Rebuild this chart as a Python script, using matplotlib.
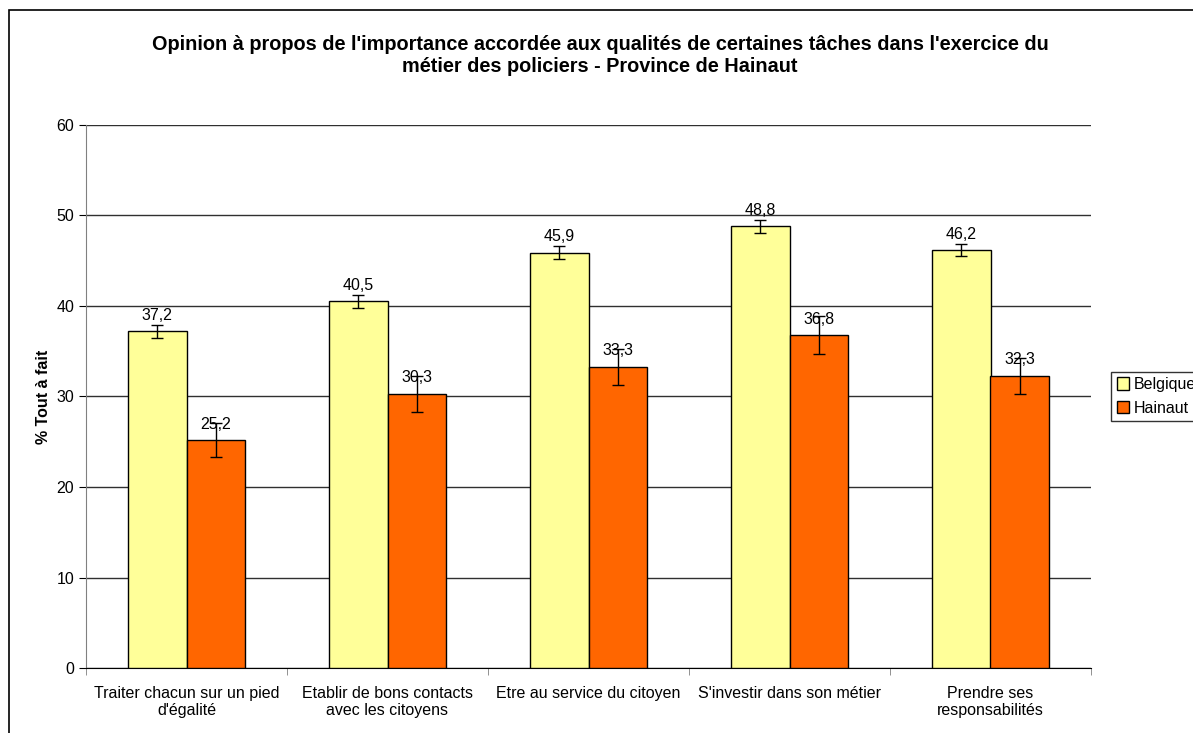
import numpy as np
import matplotlib
matplotlib.use("Agg")
import matplotlib.pyplot as plt
from matplotlib.patches import Rectangle

plt.rcParams['font.family'] = ['Liberation Sans', 'DejaVu Sans']

categories = ["Traiter chacun sur un pied\nd'égalité",
              "Etablir de bons contacts\navec les citoyens",
              "Etre au service du citoyen",
              "S'investir dans son métier",
              "Prendre ses\nresponsabilités"]
belgique = [37.2, 40.5, 45.9, 48.8, 46.2]
hainaut = [25.2, 30.3, 33.3, 36.8, 32.3]
err_belgique = [0.7, 0.7, 0.7, 0.7, 0.7]
err_hainaut = [1.9, 2.0, 2.0, 2.1, 2.0]

fs = 11.5

fig = plt.figure(figsize=(11.93, 7.33), dpi=100)
ax = fig.add_axes([86 / 1193, 65 / 733, 1005 / 1193, 543 / 733])

# outer chart border (right and bottom run off the image)
fig.patches.append(Rectangle((9 / 1193, -0.1), 1.2, 1.1 - 10 / 733,
                             transform=fig.transFigure, fill=False,
                             edgecolor='black', linewidth=1.2))

x = np.arange(len(categories))
w = 0.29
ax.bar(x - w / 2, belgique, w, color='#FFFF99', edgecolor='black', linewidth=1,
       label='Belgique', zorder=3,
       yerr=err_belgique, error_kw=dict(ecolor='black', capsize=4, elinewidth=1, capthick=1))
ax.bar(x + w / 2, hainaut, w, color='#FF6600', edgecolor='black', linewidth=1,
       label='Hainaut', zorder=3,
       yerr=err_hainaut, error_kw=dict(ecolor='black', capsize=4, elinewidth=1, capthick=1))

for i in range(len(categories)):
    ax.annotate(f"{belgique[i]:.1f}".replace('.', ','), (x[i] - w / 2, belgique[i]),
                xytext=(0, 6), textcoords='offset points', ha='center', va='bottom',
                fontsize=fs, zorder=5)
    ax.annotate(f"{hainaut[i]:.1f}".replace('.', ','), (x[i] + w / 2, hainaut[i]),
                xytext=(0, 6), textcoords='offset points', ha='center', va='bottom',
                fontsize=fs, zorder=5)

ax.set_xlim(-0.5, len(categories) - 0.5)
ax.set_ylim(0, 60)
ax.set_yticks(range(0, 61, 10))
ax.yaxis.grid(True, color='#303030', linewidth=1)
ax.set_axisbelow(True)
ax.set_xticks(x)
ax.set_xticklabels(categories, fontsize=fs)
ax.set_xticks(np.arange(-0.5, len(categories)), minor=True)
ax.tick_params(axis='x', which='major', length=0, pad=13)
ax.tick_params(axis='x', which='minor', length=5, direction='out', color='#808080')
ax.tick_params(axis='y', length=5, direction='out', labelsize=fs, color='black')
for s in ['top', 'right']:
    ax.spines[s].set_visible(False)
ax.spines['left'].set_color('#808080')
ax.spines['bottom'].set_color('black')

ax.set_ylabel('% Tout à fait', fontsize=fs, fontweight='bold', labelpad=4)

fig.text(0.503, 1 - 56 / 733, "Opinion à propos de l'importance accordée aux qualités de certaines tâches dans l'exercice du\nmétier des policiers - Province de Hainaut",
         ha='center', va='center', fontsize=14.3, fontweight='bold', linespacing=1.2)

# legend runs past the right edge, as in the original
leg = ax.legend(loc='center left', bbox_to_anchor=(1025 / 1005, 0.5), frameon=True,
                fancybox=False, edgecolor='black', fontsize=fs, handlelength=0.8,
                handleheight=0.8, handletextpad=0.3, borderpad=0.35, labelspacing=0.55,
                borderaxespad=0)
leg.get_frame().set_linewidth(1)

fig.savefig('out.png', dpi=100)
